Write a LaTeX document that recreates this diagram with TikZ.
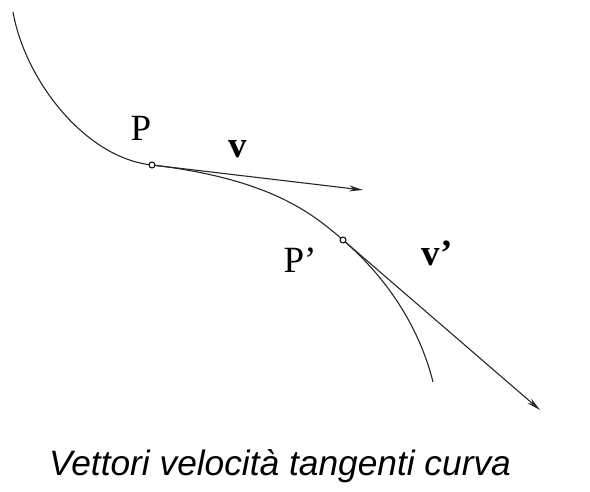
\documentclass[tikz,border=0pt]{standalone}
\usepackage{fontspec}
\setmainfont{Liberation Serif}
\newfontfamily\capfont{Liberation Sans}
\usetikzlibrary{arrows.meta}
\begin{document}
\begin{tikzpicture}[x=1pt,y=-1pt,
  curveline/.style={line width=1.1pt,black!85},
  vecline/.style={line width=1.1pt,black!85,-{Stealth[length=14pt,width=6pt]}},
  pt/.style={circle,draw,line width=1pt,inner sep=0pt,minimum size=6pt,fill=white},
  lbl/.style={font=\fontsize{37}{40}\selectfont,inner sep=0pt}]
\useasboundingbox (0,0) rectangle (590,492);
\coordinate (S) at (13,12);
\coordinate (E) at (433,382);
\coordinate (T1) at (363,190);
\coordinate (T2) at (540,410);
\draw[curveline] (S) .. controls (25,80) and (85,158) .. (152,165)
  .. controls (271,179) and (313,214) .. (343,240)
  .. controls (396,286) and (422,338) .. (E);
\node[pt] (P) at (152,165) {};
\node[pt] (P2) at (343,240) {};
\draw[vecline] (P) -- (T1);
\draw[vecline] (P2) -- (T2);
\node[lbl] (lP) at (141,128) {P};
\node[lbl] (lv) at (238,149) {\textbf{v}};
\node[lbl] (lP2) at (300,260) {P’};
\node[lbl] (lv2) at (437,253) {\textbf{v’}};
\node[inner sep=0pt,font=\capfont\itshape\fontsize{35.3}{39}\selectfont] (cap) at (280,466) {Vettori velocità tangenti curva};
\end{tikzpicture}
\end{document}
